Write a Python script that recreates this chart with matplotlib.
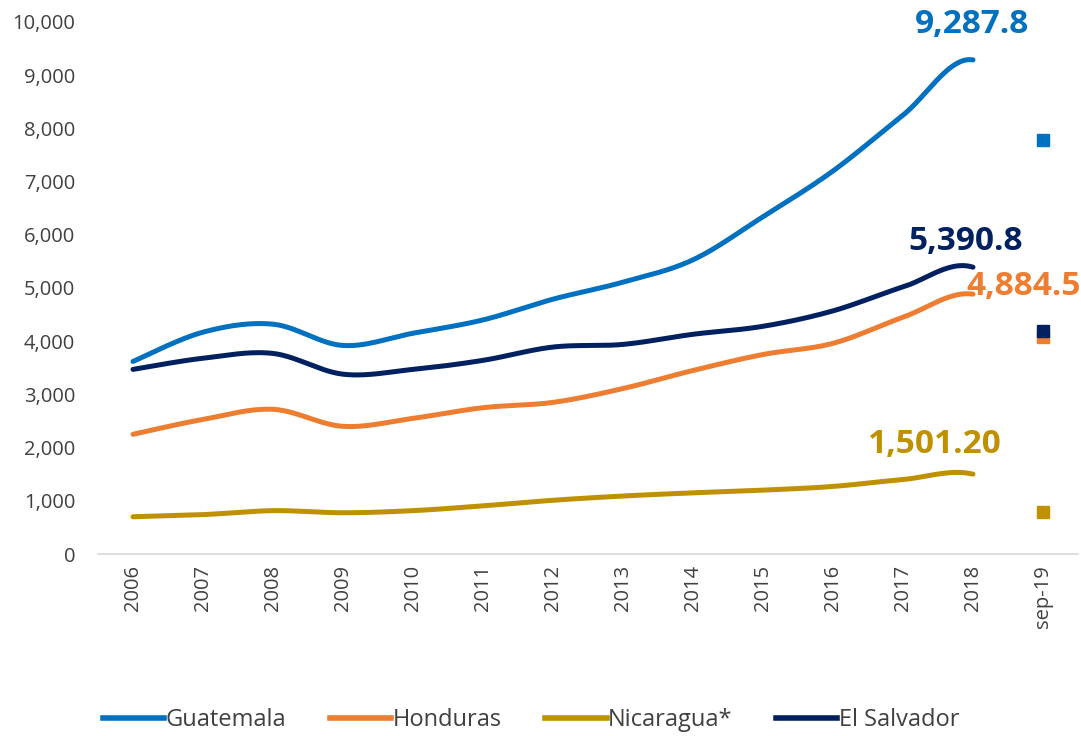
import numpy as np
import matplotlib.pyplot as plt
from matplotlib.lines import Line2D

plt.rcParams['font.family'] = ['Open Sans', 'DejaVu Sans']

years = ['2006', '2007', '2008', '2009', '2010', '2011', '2012',
         '2013', '2014', '2015', '2016', '2017', '2018', 'sep-19']

guatemala = [3620, 4170, 4320, 3920, 4150, 4400, 4790, 5110, 5530, 6340, 7200, 8250, 9287.8]
honduras = [2250, 2530, 2720, 2400, 2550, 2750, 2850, 3110, 3450, 3750, 3960, 4450, 4884.5]
nicaragua = [700, 740, 815, 775, 815, 905, 1010, 1090, 1150, 1200, 1270, 1400, 1501.2]
salvador = [3470, 3680, 3770, 3380, 3470, 3640, 3890, 3940, 4130, 4280, 4570, 5020, 5390.8]
sep19 = {'Guatemala': 7790, 'Honduras': 4075, 'Nicaragua*': 790, 'El Salvador': 4190}

names = ['Guatemala', 'Honduras', 'Nicaragua*', 'El Salvador']
colors = ['#0070C0', '#ED7D31', '#BF9000', '#002060']
series = [guatemala, honduras, nicaragua, salvador]
labels = ['9,287.8', '4,884.5', '1,501.20', '5,390.8']


# Excel style smoothed line: bezier segments with catmull-rom control points.
# The sep-19 point is used for the end tangent but its segment is not drawn.
def smooth(x, y, n=30, nseg=None):
    x, y = np.asarray(x, float), np.asarray(y, float)
    px = np.concatenate([[x[0]], x, [x[-1]]])
    py = np.concatenate([[y[0]], y, [y[-1]]])
    if nseg is None:
        nseg = len(x) - 1
    xs, ys = [], []
    t = np.linspace(0, 1, n)
    for i in range(1, nseg + 1):
        p0 = np.array([px[i], py[i]])
        p3 = np.array([px[i + 1], py[i + 1]])
        c1 = p0 + (np.array([px[i + 1], py[i + 1]]) - np.array([px[i - 1], py[i - 1]])) / 6
        c2 = p3 - (np.array([px[i + 2], py[i + 2]]) - np.array([px[i], py[i]])) / 6
        b = ((1 - t) ** 3)[:, None] * p0 + (3 * (1 - t) ** 2 * t)[:, None] * c1 \
            + (3 * (1 - t) * t ** 2)[:, None] * c2 + (t ** 3)[:, None] * p3
        xs.append(b[:, 0])
        ys.append(b[:, 1])
    return np.concatenate(xs), np.concatenate(ys)


fig = plt.figure(figsize=(10.81, 7.36), dpi=100)
ax = fig.add_axes([98 / 1081, 1 - 554 / 736, 980 / 1081, 532 / 736])

idx = np.arange(len(years))
for name, vals, c in zip(names, series, colors):
    sx, sy = smooth(idx, list(vals) + [sep19[name]], nseg=len(vals) - 1)
    ax.plot(sx, sy, color=c, lw=3.6, solid_capstyle='round')
    ax.plot(len(years) - 1, sep19[name], marker='s', ms=9, color=c, ls='none')

# data labels at 2018
lab_kw = dict(fontsize=24, fontweight='bold', ha='center', va='center')
ax.text(11.98, 9944, labels[0], color=colors[0], **lab_kw)
ax.text(11.89, 5865, labels[3], color=colors[3], **lab_kw)
ax.text(12.73, 5019, labels[1], color=colors[1], **lab_kw)
ax.text(11.46, 2049, labels[2], color=colors[2], **lab_kw)

ax.set_xlim(-0.5, len(years) - 0.5)
ax.set_ylim(0, 10000)
ax.set_yticks(range(0, 10001, 1000))
ax.set_yticklabels([f'{v:,}' for v in range(0, 10001, 1000)], fontsize=14.5, color='#404040')
ax.set_xticks(range(len(years)))
ax.set_xticklabels(years, rotation=90, fontsize=14.5, color='#404040')
ax.tick_params(length=0, pad=8)
ax.tick_params(axis='y', pad=16.5)
for s in ['top', 'right', 'left']:
    ax.spines[s].set_visible(False)
ax.spines['bottom'].set_color('#D9D9D9')
ax.spines['bottom'].set_linewidth(1.2)

handles = [Line2D([0], [0], color=c, lw=4) for c in colors]
fig.legend(handles, names, loc='center', bbox_to_anchor=(531 / 1081, 1 - 720 / 736), ncol=4,
           frameon=False, fontsize=17, handlelength=2.6, handletextpad=0.05, columnspacing=1.85,
           labelcolor='#404040')

fig.savefig('out.png', dpi=100)
